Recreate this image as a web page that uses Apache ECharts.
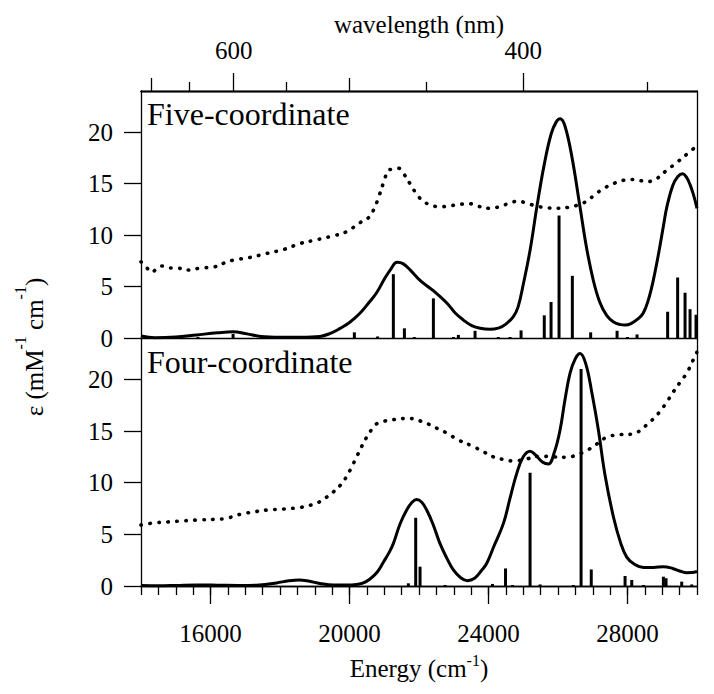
<!DOCTYPE html>
<html><head><meta charset="utf-8">
<script src="https://cdn.jsdelivr.net/npm/echarts@6/dist/echarts.min.js"></script>
<style>html,body{margin:0;padding:0;background:#fff}#c{width:714px;height:694px}</style>
</head><body><div id="c"></div>
<script>
// ---- tick labels ----
const energyTicks = [16000, 20000, 24000, 28000];
const wavelengthLabels = [600, 400];
const wavelengthMid = [700, 500];
const wavelengthMinor = [650, 550, 450, 350];
const yTicks = [0, 5, 10, 15, 20];
const panelNames = ['Five-coordinate', 'Four-coordinate'];

// ---- Five-coordinate ----
const fiveSolidE = [14000,14400,15000,15600,16200,16650,17050,17450,18000,18600,19150,19450,19730,20000,20300,20550,20780,21000,21170,21370,21550,21750,22030,22410,22800,23050,23280,23520,23760,24040,24300,24500,24710,24850,25000,25200,25390,25600,25800,25950,26060,26200,26400,26635,26820,27016,27200,27400,27600,27800,27930,28100,28300,28450,28600,28742,28900,29050,29130,29300,29450,29590,29700,29800,29900,30000];
const fiveSolidV = [0.2,0.03,0.1,0.3,0.5,0.6,0.4,0.15,0.08,0.08,0.15,0.45,0.93,1.5,2.4,3.4,4.4,5.7,6.6,7.35,7.2,6.6,5.6,4.6,3.4,2.4,1.74,1.2,0.94,0.84,0.98,1.35,2.06,3.0,5.2,8.6,12.7,16.8,19.8,21.0,21.3,20.6,17.6,12.7,8.8,5.6,3.5,2.2,1.55,1.3,1.26,1.4,1.85,2.4,3.7,5.6,8.3,11.2,12.7,14.8,15.7,15.96,15.6,14.9,13.9,12.6];
const fiveDotE = [14000,14150,14300,14450,14600,14800,15000,15400,15700,16100,16400,16700,17100,17600,18100,18600,19000,19500,19900,20300,20550,20700,20850,21000,21120,21250,21400,21550,21740,21950,22120,22350,22600,22900,23200,23450,23700,24050,24350,24600,24850,25100,25400,25700,26000,26300,26550,26830,27050,27300,27600,27850,28100,28350,28550,28800,29130,29400,29650,29900];
const fiveDotV = [7.4,6.9,6.4,6.7,7.0,6.8,6.8,6.6,6.8,6.9,7.3,7.6,7.8,8.2,8.6,9.2,9.5,9.9,10.3,11.2,11.7,12.5,13.8,15.3,16.3,16.4,16.5,16.0,15.0,13.9,13.3,12.9,12.75,12.85,13.0,13.05,12.8,12.6,12.8,13.1,13.3,13.1,12.8,12.65,12.6,12.7,12.9,13.3,13.9,14.5,15.0,15.3,15.4,15.3,15.2,15.4,16.3,17.0,17.7,18.4];
const fiveStickE = [15640,16650,20140,20810,21262,21580,21866,22414,22990,23133,23613,24283,24620,24937,25605,25800,26030,26413,26940,27700,28000,28275,29155,29443,29656,29800,29972];
const fiveStickV = [0.1,0.4,0.55,0.15,6.2,0.94,0.1,3.85,0.1,0.3,0.7,0.1,0.1,0.74,2.2,3.5,11.9,6.04,0.55,0.7,0.1,0.35,2.55,5.88,4.4,2.8,2.26];

// ---- Four-coordinate ----
const fourSolidE = [14000,14500,15000,15600,16200,16800,17400,17900,18250,18550,18850,19150,19535,19900,20200,20400,20600,20800,20974,21150,21261,21454,21646,21800,21934,22080,22221,22400,22605,22800,22989,23200,23390,23600,23800,23950,24150,24430,24620,24813,25000,25196,25350,25550,25722,25900,26059,26200,26347,26500,26635,26800,26980,27162,27350,27594,27800,27978,28200,28457,28750,29033,29300,29550,29705,29850,30000];
const fourSolidV = [0.05,0.02,0.05,0.1,0.08,0.05,0.1,0.3,0.5,0.58,0.45,0.25,0.1,0.1,0.15,0.3,0.7,1.35,2.3,3.3,4.1,6.0,7.35,8.1,8.38,8.1,7.35,6.0,4.1,2.7,1.55,0.8,0.52,0.75,1.5,2.2,3.8,6.06,8.5,10.9,12.5,13.05,12.7,12.0,11.8,13.0,15.1,18.0,20.6,22.0,22.5,21.5,18.6,15.1,10.8,6.7,4.2,2.8,2.1,1.8,1.8,1.87,1.7,1.4,1.29,1.3,1.4];
const fourDotE = [14000,14350,14767,15200,15700,16100,16467,16700,16940,17300,17617,18100,18576,18850,19055,19300,19535,19750,19918,20060,20206,20350,20494,20650,20782,21000,21261,21550,21838,22080,22318,22550,22798,23150,23565,23850,24140,24420,24716,25100,25484,25850,26251,26550,26827,27100,27403,27800,28170,28380,28553,28750,28937,29130,29321,29510,29705,29850,29993];
const fourDotV = [5.9,6.1,6.2,6.3,6.4,6.45,6.54,6.8,7.0,7.2,7.35,7.45,7.6,7.8,8.0,8.5,9.1,9.8,10.6,11.5,12.5,13.5,14.4,15.2,15.7,15.95,16.1,16.2,16.2,15.9,15.6,15.2,14.8,14.1,13.5,13.0,12.5,12.25,12.1,12.3,12.57,12.5,12.45,12.7,13.1,13.7,14.4,14.65,14.7,15.1,15.6,16.2,16.9,17.8,18.8,19.7,20.6,21.6,22.6];
const fourStickE = [21694,21905,22030,22750,24115,24490,24690,25196,25484,26440,26664,26957,27930,28122,28457,29033,29110,29560,29848];
const fourStickV = [0.26,6.6,1.87,0.1,0.2,1.7,0.1,10.96,0.15,0.1,21.0,1.6,0.97,0.58,0.1,0.9,0.75,0.42,0.15];

const zip = (a, b) => a.map((x, i) => [x, b[i]]);
const FONT = "'Liberation Serif','Times New Roman',serif";
const toE = nm => 1e7 / nm;

const chart = echarts.init(document.getElementById('c'), null, {renderer: 'svg'});

const lineAx = {lineStyle: {color: '#000', width: 1.3}, onZero: false};
const baseX = {type: 'value', min: 14000, max: 30000, splitLine: {show: false}, axisLine: lineAx};
const baseY = {type: 'value', min: 0, max: 24, splitLine: {show: false}, axisLine: {show: true, lineStyle: {color: '#000', width: 1.3}, onZero: false}};

const stickSeries = (E, V, xi, yi) => ({
  type: 'custom', xAxisIndex: xi, yAxisIndex: yi, data: zip(E, V),
  renderItem: (params, api) => {
    const b = api.coord([api.value(0), 0]);
    const t = api.coord([api.value(0), api.value(1)]);
    return {type: 'rect', shape: {x: b[0] - 1.5, y: t[1], width: 3, height: b[1] - t[1]}, style: {fill: '#000'}};
  }
});
const solid = (E, V, xi, yi) => ({type: 'line', xAxisIndex: xi, yAxisIndex: yi, data: zip(E, V), showSymbol: false, symbol: 'none', smooth: 0.4, lineStyle: {color: '#000', width: 3}});
const dotted = (E, V, xi, yi) => ({type: 'line', xAxisIndex: xi, yAxisIndex: yi, data: zip(E, V), showSymbol: false, symbol: 'none', smooth: 0.4, lineStyle: {color: '#000', width: 3.6, type: [0.5, 8.5], cap: 'round'}});

const option = {
  animation: false,
  backgroundColor: '#fff',
  grid: [
    {left: 141, right: 17, top: 91, height: 247, containLabel: false, outerBoundsMode: 'none'},
    {left: 141, right: 17, top: 338, height: 248, containLabel: false, outerBoundsMode: 'none'}
  ],
  xAxis: [
    Object.assign({}, baseX, {gridIndex: 0, position: 'bottom', axisTick: {show: false}, axisLabel: {show: false}}),
    Object.assign({}, baseX, {gridIndex: 1, position: 'bottom',
      axisTick: {show: true, inside: false, length: 18, customValues: energyTicks, lineStyle: {color: '#000', width: 1.3}},
      axisLabel: {show: true, customValues: energyTicks, formatter: v => String(Math.round(v)), margin: 35, color: '#000', fontFamily: FONT, fontSize: 25},
      name: '{a|Energy (cm}{s|-1}{a|)}', nameLocation: 'middle', nameGap: 66,
      nameTextStyle: {color: '#000', fontFamily: FONT, rich: {a: {fontFamily: FONT, fontSize: 25, lineHeight: 32, color: '#000'}, s: {fontFamily: FONT, fontSize: 16, lineHeight: 16, verticalAlign: 'top', color: '#000'}}}
    }),
    Object.assign({}, baseX, {gridIndex: 1, position: 'bottom', interval: 500,
      axisTick: {show: true, inside: false, length: 9, lineStyle: {color: '#000', width: 1.3}}, axisLabel: {show: false}}),
    Object.assign({}, baseX, {gridIndex: 0, position: 'top',
      axisTick: {show: true, inside: false, length: 18, customValues: wavelengthLabels.map(toE), lineStyle: {color: '#000', width: 1.3}},
      axisLabel: {show: true, customValues: wavelengthLabels.map(toE), formatter: v => String(Math.round(1e7 / v)), margin: 28, color: '#000', fontFamily: FONT, fontSize: 25},
      name: 'wavelength (nm)', nameLocation: 'middle', nameGap: 50,
      nameTextStyle: {color: '#000', fontFamily: FONT, fontSize: 25}
    }),
    Object.assign({}, baseX, {gridIndex: 0, position: 'top',
      axisTick: {show: true, inside: false, length: 13, customValues: wavelengthMid.map(toE), lineStyle: {color: '#000', width: 1.3}}, axisLabel: {show: false}}),
    Object.assign({}, baseX, {gridIndex: 0, position: 'top',
      axisTick: {show: true, inside: false, length: 9, customValues: wavelengthMinor.map(toE), lineStyle: {color: '#000', width: 1.3}}, axisLabel: {show: false}})
  ],
  yAxis: [0, 1].map(g => Object.assign({}, baseY, {gridIndex: g, position: 'left',
      axisTick: {show: true, inside: false, length: 17, customValues: yTicks, lineStyle: {color: '#000', width: 1.3}},
      axisLabel: {show: true, customValues: yTicks, margin: 28, color: '#000', fontFamily: FONT, fontSize: 25}
    })).concat([0, 1].map(g => Object.assign({}, baseY, {gridIndex: g, position: 'right', axisTick: {show: false}, axisLabel: {show: false}}))),
  graphic: [
    {type: 'text', x: 147, y: 114, style: {text: panelNames[0], font: '32px ' + FONT, fill: '#000', align: 'left', verticalAlign: 'middle'}},
    {type: 'text', x: 147, y: 362, style: {text: panelNames[1], font: '32px ' + FONT, fill: '#000', align: 'left', verticalAlign: 'middle'}},
    {type: 'text', x: 34, y: 347, rotation: Math.PI / 2, style: {
      text: '{a|ε (mM}{s|-1}{a| cm}{s|-1}{a|)}', align: 'center', verticalAlign: 'middle', fill: '#000',
      rich: {a: {fontFamily: FONT, fontSize: 25, lineHeight: 44, fill: '#000'}, s: {fontFamily: FONT, fontSize: 16, lineHeight: 16, verticalAlign: 'top', fill: '#000'}}
    }}
  ],
  series: [
    dotted(fiveDotE, fiveDotV, 0, 0),
    solid(fiveSolidE, fiveSolidV, 0, 0),
    stickSeries(fiveStickE, fiveStickV, 0, 0),
    dotted(fourDotE, fourDotV, 1, 1),
    solid(fourSolidE, fourSolidV, 1, 1),
    stickSeries(fourStickE, fourStickV, 1, 1)
  ]
};
chart.setOption(option);
</script></body></html>
